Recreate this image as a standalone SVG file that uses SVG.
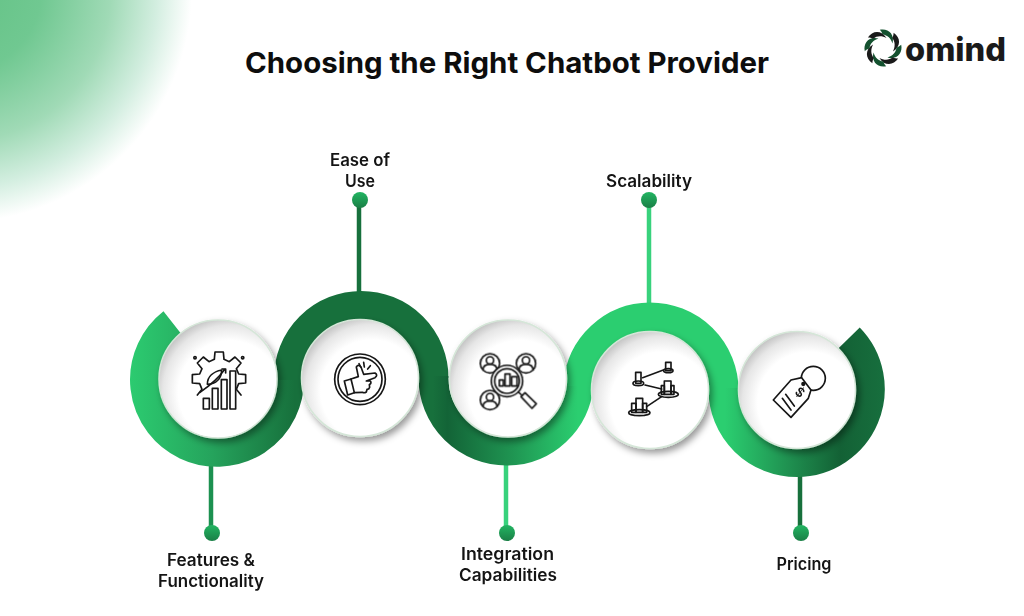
<svg xmlns="http://www.w3.org/2000/svg" width="1024" height="616" viewBox="0 0 1024 616">
<defs>
<radialGradient id="bg" gradientUnits="userSpaceOnUse" cx="-40" cy="-10" r="232">
<stop offset="0" stop-color="#62c284"/><stop offset=".35" stop-color="#70c891"/><stop offset=".65" stop-color="#a0dab6"/><stop offset=".85" stop-color="#d3eee0"/><stop offset="1" stop-color="#fff"/>
</radialGradient>
<linearGradient id="g1" gradientUnits="userSpaceOnUse" x1="130" y1="0" x2="295" y2="0"><stop offset="0" stop-color="#2ccb70"/><stop offset=".5" stop-color="#25a35c"/><stop offset="1" stop-color="#17703c"/></linearGradient>
<linearGradient id="g3" gradientUnits="userSpaceOnUse" x1="433" y1="0" x2="578" y2="0"><stop offset="0" stop-color="#17703c"/><stop offset=".1" stop-color="#136437"/><stop offset=".55" stop-color="#1f9552"/><stop offset="1" stop-color="#2bce70"/></linearGradient>
<linearGradient id="g5" gradientUnits="userSpaceOnUse" x1="725" y1="0" x2="885" y2="0"><stop offset="0" stop-color="#2bce70"/><stop offset=".4" stop-color="#1f9050"/><stop offset=".72" stop-color="#136135"/><stop offset="1" stop-color="#176f3e"/></linearGradient>
<linearGradient id="dot" x1="0" y1="0" x2="0" y2="1"><stop offset="0" stop-color="#22b562"/><stop offset="1" stop-color="#1a7f46"/></linearGradient>
<radialGradient id="disc" cx=".6" cy=".61" r=".66">
<stop offset=".66" stop-color="#fff"/><stop offset=".86" stop-color="#e6e6e6"/><stop offset="1" stop-color="#bdbdbd"/>
</radialGradient>
<filter id="sh" x="-30%" y="-30%" width="160%" height="160%"><feDropShadow dx="3" dy="4" stdDeviation="3.5" flood-color="#000" flood-opacity=".4"/></filter>
<filter id="soft" x="-5%" y="-5%" width="110%" height="110%"><feGaussianBlur stdDeviation=".3"/></filter>
<path id="blade" d="M-3.2-18.2C5-20 12-14 9.5-4.5C8-9.5 4.5-13-.5-13.5C-1-15.5-2-17-3.2-18.2Z"/>
<g id="person"><circle r="29"/><circle cy="-9" r="11"/><path d="M-21 20C-21 4-8 3 0 3S21 4 21 20"/></g>
<style>
.band{fill:none}
.stem{stroke-width:4.5;fill:none}
.disc{fill:url(#disc);stroke:#d5e6d8;stroke-width:1.5;filter:url(#sh)}
.ic{fill:none;stroke:#161616;stroke-width:5;stroke-linejoin:round;stroke-linecap:round;filter:url(#soft)}
.w{fill:#fff}
.lb{font-family:"Inter","Liberation Sans",sans-serif;font-weight:600;font-size:16.8px;fill:#141414;text-anchor:middle}
</style>
</defs>
<rect width="1024" height="616" fill="#fff"/>
<rect width="240" height="240" fill="url(#bg)"/>
<text x="507" y="73" text-anchor="middle" font-family="Inter,'Liberation Sans',sans-serif" font-weight="700" font-size="29" fill="#0d0d0d" textLength="524" lengthAdjust="spacingAndGlyphs">Choosing the Right Chatbot Provider</text>

<g id="logo">
<g transform="translate(883 48)" fill="#14512f">
<use href="#blade"/>
<use href="#blade" transform="rotate(45)" fill="#1a1a1a"/>
<use href="#blade" transform="rotate(90)"/>
<use href="#blade" transform="rotate(135)" fill="#1a1a1a"/>
<use href="#blade" transform="rotate(180)"/>
<use href="#blade" transform="rotate(225)" fill="#1a1a1a"/>
<use href="#blade" transform="rotate(270)"/>
<use href="#blade" transform="rotate(315)" fill="#1a1a1a"/>
</g>
<text x="905" y="61" font-family="Inter,'Liberation Sans',sans-serif" font-weight="800" font-size="32" fill="#1a1a1a" textLength="101" lengthAdjust="spacingAndGlyphs">omind</text>
</g>

<g id="connectors">
<path class="stem" d="M211 465V533" stroke="#1c9150"/>
<path class="stem" d="M359 200V293" stroke="#17703c"/>
<path class="stem" d="M506 465V533" stroke="#38d27c"/>
<path class="stem" d="M649 200V304" stroke="#38d27c"/>
<path class="stem" d="M800 476V533" stroke="#17703c"/>
<circle cx="212" cy="533" r="8" fill="url(#dot)"/>
<circle cx="360" cy="200" r="8" fill="url(#dot)"/>
<circle cx="507" cy="533" r="8" fill="url(#dot)"/>
<circle cx="649" cy="200" r="8" fill="url(#dot)"/>
<circle cx="801" cy="533" r="8" fill="url(#dot)"/>
</g>

<g id="ribbon">
<path class="band" stroke="url(#g1)" stroke-width="30" d="M172.7 323A72 72 0 1 0 289 378"/>
<path class="band" stroke="#17703c" stroke-width="30" d="M289 380V378A72.2 72 0 0 1 433.5 378"/>
<path class="band" stroke="url(#g3)" stroke-width="30" d="M433.5 376V378A73 72.5 0 0 0 507 450.5A72 72.5 0 0 0 578.5 384"/>
<path class="band" stroke="#2bce70" stroke-width="30" d="M578.5 386V384A72 72.5 0 0 1 650 317.5A73.5 72.5 0 0 1 723.5 390"/>
<path class="band" stroke="url(#g5)" stroke-width="30" d="M723.5 388V390A73.5 72 0 0 0 797 462A73 73 0 0 0 849 338"/>
</g>

<g id="node-features">
<circle class="disc" cx="218" cy="379" r="59"/>
<g transform="translate(180 345) scale(.3333)" class="ic">
<path d="M52 150L66 133L59 116L37 114V89L59 87L66 71L52 54L70 36L87 50L103 43L105 21H130L132 43L148 50L165 36L183 54L169 71L176 87L197 89V114L176 116L169 133L183 150"/>
<path d="M60 142C85 125 115 100 135 72M126 72H137V84"/>
<path d="M82 118C82 95 100 80 125 75C125 100 108 118 82 118Z"/>
<rect class="w" x="70" y="160" width="18" height="32"/>
<rect class="w" x="97" y="130" width="17" height="62"/>
<rect class="w" x="124" y="104" width="17" height="88"/>
<rect class="w" x="150" y="78" width="17" height="114"/>
<circle cx="45" cy="38" r="3.5"/><circle cx="188" cy="38" r="3.5"/>
</g>
</g>

<g id="node-ease">
<circle class="disc" cx="360" cy="378" r="58.5"/>
<g transform="translate(325 345) scale(.3333)" class="ic">
<circle cx="105" cy="103" r="76"/><circle cx="105" cy="103" r="66"/>
<path d="M58 108L78 102L88 143L68 150Z"/>
<path d="M78 102L100 95L94 66Q100 56 108 66L116 88L150 84Q160 90 150 98L124 108L136 108Q141 114 133 119L134 127Q132 134 126 133L124 141Q118 145 112 142L88 143"/>
<path d="M107 66L102 56M118 66L116 52M128 72L136 62"/>
</g>
</g>

<g id="node-integration">
<circle class="disc" cx="508" cy="378.5" r="58.5"/>
<g transform="translate(472 345) scale(.3333)" class="ic">
<use href="#person" x="54" y="55"/>
<use href="#person" x="162" y="55"/>
<use href="#person" x="54" y="165"/>
<circle class="w" cx="105" cy="108" r="47"/>
<circle cx="105" cy="108" r="37"/>
<rect x="82" y="105" width="12" height="18"/>
<rect x="99" y="87" width="15" height="36"/>
<rect x="119" y="95" width="16" height="28"/>
<path d="M139 141L150 151"/>
<path d="M147 155L159 143L193 176L180 190Z"/>
</g>
</g>

<g id="node-scalability">
<circle class="disc" cx="650" cy="390" r="58.5"/>
<g transform="translate(620 355) scale(.3333)" class="ic">
<path d="M68 68L130 45M75 90L125 102M80 155L125 125"/>
<rect x="137" y="22" width="16" height="25"/><ellipse cx="145" cy="47" rx="14" ry="6"/>
<rect x="47" y="52" width="16" height="33"/><ellipse cx="55" cy="85" rx="16" ry="7"/>
<rect x="133" y="78" width="20" height="40"/><rect x="124" y="92" width="9" height="26"/><rect x="153" y="92" width="9" height="26"/><ellipse cx="145" cy="118" rx="30" ry="9"/>
<rect x="48" y="130" width="20" height="42"/><rect x="35" y="145" width="13" height="27"/><rect x="68" y="145" width="12" height="27"/><ellipse cx="58" cy="173" rx="32" ry="9"/>
</g>
</g>

<g id="node-pricing">
<circle class="disc" cx="797" cy="390" r="58.5"/>
<g transform="translate(765 355) scale(.3333)" class="ic">
<circle cx="145" cy="70" r="36"/>
<path class="w" d="M25 135L78 75L110 68L138 105L130 130L78 187Z"/>
<circle cx="115" cy="87" r="4" fill="#161616"/>
<path d="M62 118L88 153M52 130L78 165"/>
<text transform="translate(97 122) rotate(38)" text-anchor="middle" font-family="Inter,'Liberation Sans',sans-serif" font-size="38" font-weight="600" fill="#161616" stroke="none">$</text>
</g>
</g>

<g id="labels">
<text class="lb" x="360" y="165.5" textLength="60" lengthAdjust="spacingAndGlyphs">Ease of</text>
<text class="lb" x="360" y="186.5" textLength="30" lengthAdjust="spacingAndGlyphs">Use</text>
<text class="lb" x="649" y="186.5" textLength="86" lengthAdjust="spacingAndGlyphs">Scalability</text>
<text class="lb" x="211" y="565.5" textLength="88" lengthAdjust="spacingAndGlyphs">Features &amp;</text>
<text class="lb" x="211" y="586.5" textLength="106" lengthAdjust="spacingAndGlyphs">Functionality</text>
<text class="lb" x="507.5" y="559.5" textLength="93" lengthAdjust="spacingAndGlyphs">Integration</text>
<text class="lb" x="508" y="580.5" textLength="98" lengthAdjust="spacingAndGlyphs">Capabilities</text>
<text class="lb" x="804" y="569.5" textLength="55" lengthAdjust="spacingAndGlyphs">Pricing</text>
</g>
</svg>
